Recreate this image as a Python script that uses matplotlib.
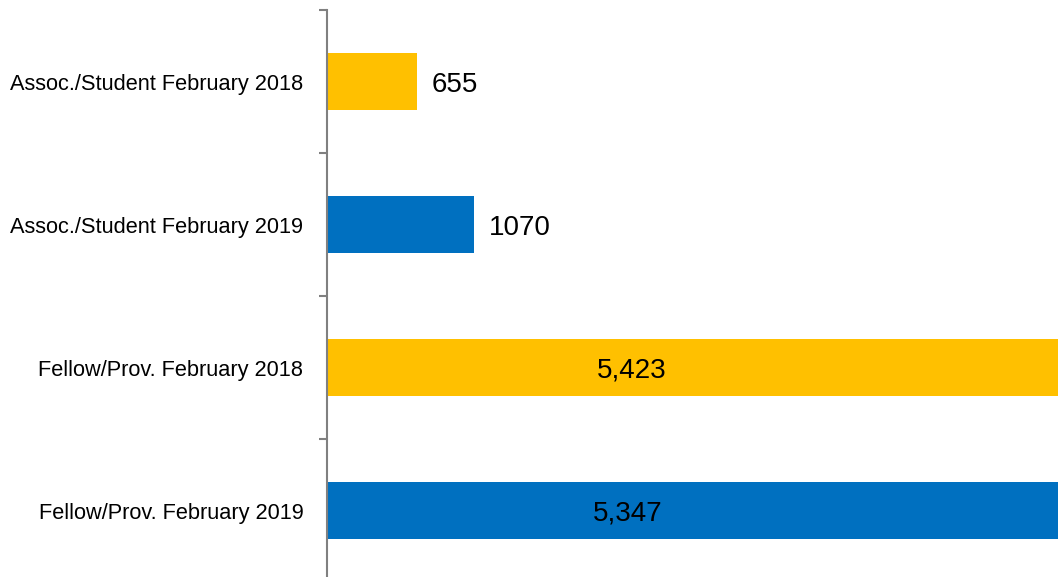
import matplotlib
matplotlib.use('Agg')
import matplotlib.pyplot as plt
import numpy as np

categories = [
    'Assoc./Student February 2018',
    'Assoc./Student February 2019',
    'Fellow/Prov. February 2018',
    'Fellow/Prov. February 2019',
]
values = [655, 1070, 5423, 5347]
labels = ['655', '1070', '5,423', '5,347']
colors = ['#FFC000', '#0070C0', '#FFC000', '#0070C0']

plt.rcParams['font.family'] = ['Liberation Sans', 'DejaVu Sans']

fig = plt.figure(figsize=(10.58, 5.77), dpi=100)
ax = fig.add_axes([327 / 1058, 0.0, 1 - 327 / 1058, 1 - 10 / 577])

# top category first
y = np.arange(len(categories))[::-1]
ax.barh(y, values, height=0.4, color=colors)

ax.set_xlim(0, 5335)
ax.set_ylim(-0.465, 3.5)

for yi, v, lab in zip(y, values, labels):
    if v > 3000:
        ax.text(v * 0.41, yi, lab, ha='center', va='center_baseline', fontsize=20, color='black')
    else:
        ax.text(v + 110, yi, lab, ha='left', va='center_baseline', fontsize=20, color='black')

ax.set_yticks(y)
ax.set_yticklabels(categories, fontsize=15.7)
ax.tick_params(axis='y', which='major', length=0, pad=17)
ax.set_yticks(np.arange(0.5, 3.6, 1.0), minor=True)
ax.tick_params(axis='y', which='minor', length=6, width=1.5, color='#808080', direction='out')

ax.set_xticks([])
for s in ['top', 'right', 'bottom']:
    ax.spines[s].set_visible(False)
ax.spines['left'].set_color('#808080')
ax.spines['left'].set_linewidth(1.5)

fig.savefig('out.png', dpi=100)
